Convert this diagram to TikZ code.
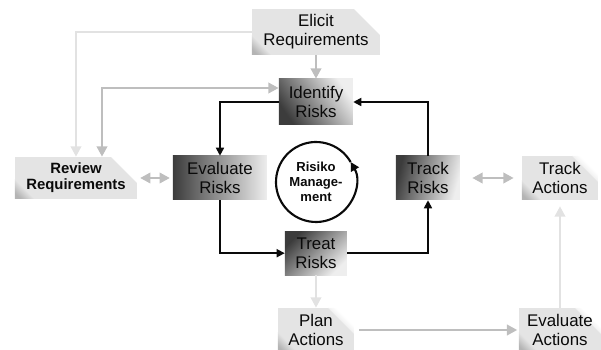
\documentclass[tikz,border=0pt]{standalone}
\usepackage{fontspec}
\setsansfont{Liberation Sans}
\usepackage{xcolor}
\definecolor{rskInk}{HTML}{0A0A0A}
\definecolor{rskDarkL}{HTML}{3C3C3C}
\definecolor{rskDarkR}{HTML}{EEEEEE}
\definecolor{rskBox}{HTML}{E4E4E4}
\definecolor{rskCorner}{HTML}{B4B4B4}
\definecolor{rskMid}{HTML}{BEBEBE}
\definecolor{rskPale}{HTML}{E2E2E2}
\usepackage{tikz}
\usetikzlibrary{arrows.meta,positioning,calc}
\tikzset{
    riskbox/.style={
        rectangle,
        left color=rskDarkL,
        right color=rskDarkR,
        align=center,
        minimum height=1.1cm,
        inner sep=1pt,
        text=rskInk,
        font=\sffamily\fontsize{12}{13.5}\selectfont
    },
    reqbox/.style={
        rectangle,
        fill=rskBox,
        align=center,
        minimum height=1.1cm,
        inner sep=1pt,
        text=rskInk,
        font=\sffamily\fontsize{12}{13.5}\selectfont,
        path picture={
            \shade[top color=white, bottom color=rskCorner, middle color=rskCorner, shading angle=-45]
                ([xshift=-0.65cm]path picture bounding box.north east)
                -- (path picture bounding box.north east)
                -- ([yshift=-0.65cm]path picture bounding box.north east) -- cycle;
            \shade[top color=rskBox, bottom color=rskCorner, middle color=rskBox, shading angle=-45]
                ([xshift=0.5cm]path picture bounding box.south west)
                -- (path picture bounding box.south west)
                -- ([yshift=0.5cm]path picture bounding box.south west) -- cycle;
        }
    },
    cyclenode/.style={
        circle,
        minimum size=2cm,
        inner sep=0pt,
        outer sep=0pt,
        align=center,
        text=rskInk,
        font=\sffamily\bfseries\fontsize{9.3}{10.8}\selectfont
    },
    riskarrow/.style={
        ->,
        >={Triangle[length=2mm,width=2mm]},
        line width=1.2pt,
        color=rskInk
    },
    cyclearrow/.style={
        ->,
        >={Triangle[length=2.2mm,width=2.2mm]},
        line width=1.5pt,
        color=rskInk
    },
    grayarrow/.style={
        ->,
        >={Triangle[length=2.6mm,width=2.6mm]},
        line width=2pt,
        color=rskMid
    },
    palearrow/.style={
        ->,
        >={Triangle[length=2.6mm,width=2.6mm]},
        line width=2pt,
        color=rskPale
    }
}

\begin{document}
\begin{tikzpicture}[on grid]
    \useasboundingbox (-7.9,-4.2) rectangle (7.125,4.55);

    % Central cycle
    \node[cyclenode] (mgmt) {Risiko\\Manage-\\ment};

    % Risk steps around the cycle
    \node[riskbox, above=2cm of mgmt, minimum width=1.85cm, minimum height=1.15cm, shading angle=125] (identify) {Identify\\Risks};
    \node[riskbox, above left=0.1cm and 2.4cm of mgmt, minimum width=2.35cm] (evaluate) {Evaluate\\Risks};
    \node[riskbox, below=1.78cm of mgmt, minimum width=1.55cm, shading angle=45] (treat) {Treat\\Risks};
    \node[riskbox, above right=0.1cm and 2.8cm of mgmt, minimum width=1.6cm, shading angle=75] (track) {Track\\Risks};

    % Requirement and action steps
    \node[reqbox, above=1.75cm of identify, minimum width=3.2cm, minimum height=1.15cm] (elicit) {Elicit\\Requirements};
    \node[reqbox, left=3.6cm of evaluate, minimum width=3.05cm, minimum height=1.05cm,
          font=\sffamily\bfseries\fontsize{10.6}{11.5}\selectfont] (review) {Review\\Requirements};
    \node[reqbox, right=3.3cm of track, minimum width=1.9cm] (trackact) {Track\\Actions};
    \node[reqbox, below=1.92cm of treat, minimum width=1.9cm] (plan) {Plan\\Actions};
    \node[reqbox, right=6.1cm of plan, minimum width=2.05cm] (evalact) {Evaluate\\Actions};

    % Risk cycle
    \draw[riskarrow] (identify.west) -| (evaluate.north);
    \draw[riskarrow] (evaluate.south) |- (treat.west);
    \draw[riskarrow] (treat.east) -| (track.south);
    \draw[riskarrow] (track.north) |- (identify.east);
    \draw[cyclearrow] (mgmt.30) arc[start angle=30, end angle=390, radius=1cm];

    % Requirements
    \draw[grayarrow] (elicit) -- (identify);
    \draw[palearrow] (elicit.west) -| (review.north);
    \draw[grayarrow, <->] ([xshift=0.65cm]review.north) |- ([yshift=0.35cm]identify.west);
    \draw[grayarrow, <->, shorten <=2pt, shorten >=2pt] (review) -- (evaluate);

    % Actions
    \draw[grayarrow, <->, shorten <=0.3cm, shorten >=0.2cm] (track) -- (trackact);
    \draw[palearrow] (treat) -- (plan);
    \draw[grayarrow, shorten <=0.12cm, shorten >=1pt] (plan) -- (evalact);
    \draw[palearrow, shorten >=0.15cm] (evalact) -- (trackact);
\end{tikzpicture}
\end{document}
